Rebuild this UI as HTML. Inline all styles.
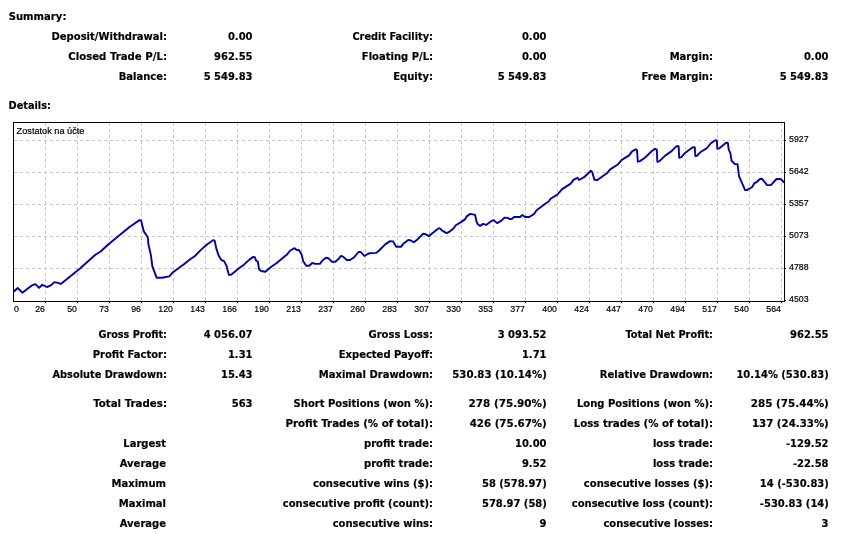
<!DOCTYPE html>
<html><head><meta charset="utf-8"><title>Strategy Tester Report</title>
<style>
html,body{margin:0;padding:0;background:#fff;}
body{width:843px;height:534px;overflow:hidden;}
svg{display:block}
.b{font:bold 11px "DejaVu Sans","Liberation Sans",sans-serif;fill:#000;stroke:#000;stroke-width:0.18px}
.s{font:9.5px "Liberation Sans","DejaVu Sans",sans-serif;fill:#000;stroke:#000;stroke-width:0.2px}
.g line{stroke:#c6c6c6;stroke-width:1;stroke-dasharray:3 3;shape-rendering:crispEdges}
</style></head><body>
<svg width="843" height="534" viewBox="0 0 843 534">
<rect width="843" height="534" fill="#fff"/>
<g class="g">
<line x1="45.5" y1="123" x2="45.5" y2="301"/>
<line x1="77.5" y1="123" x2="77.5" y2="301"/>
<line x1="109.5" y1="123" x2="109.5" y2="301"/>
<line x1="141.5" y1="123" x2="141.5" y2="301"/>
<line x1="173.5" y1="123" x2="173.5" y2="301"/>
<line x1="205.5" y1="123" x2="205.5" y2="301"/>
<line x1="237.5" y1="123" x2="237.5" y2="301"/>
<line x1="269.5" y1="123" x2="269.5" y2="301"/>
<line x1="301.5" y1="123" x2="301.5" y2="301"/>
<line x1="333.5" y1="123" x2="333.5" y2="301"/>
<line x1="365.5" y1="123" x2="365.5" y2="301"/>
<line x1="397.5" y1="123" x2="397.5" y2="301"/>
<line x1="429.5" y1="123" x2="429.5" y2="301"/>
<line x1="461.5" y1="123" x2="461.5" y2="301"/>
<line x1="493.5" y1="123" x2="493.5" y2="301"/>
<line x1="525.5" y1="123" x2="525.5" y2="301"/>
<line x1="557.5" y1="123" x2="557.5" y2="301"/>
<line x1="589.5" y1="123" x2="589.5" y2="301"/>
<line x1="621.5" y1="123" x2="621.5" y2="301"/>
<line x1="653.5" y1="123" x2="653.5" y2="301"/>
<line x1="685.5" y1="123" x2="685.5" y2="301"/>
<line x1="717.5" y1="123" x2="717.5" y2="301"/>
<line x1="749.5" y1="123" x2="749.5" y2="301"/>
<line x1="781.5" y1="123" x2="781.5" y2="301"/>
<line x1="14" y1="140.5" x2="784" y2="140.5"/>
<line x1="14" y1="172.5" x2="784" y2="172.5"/>
<line x1="14" y1="204.5" x2="784" y2="204.5"/>
<line x1="14" y1="236.5" x2="784" y2="236.5"/>
<line x1="14" y1="268.5" x2="784" y2="268.5"/>
</g>
<rect x="13.5" y="122.5" width="771" height="179" fill="none" stroke="#000" stroke-width="1" shape-rendering="crispEdges"/>
<g fill="#000" shape-rendering="crispEdges"><rect x="45" y="302" width="1" height="1"/><rect x="77" y="302" width="1" height="1"/><rect x="109" y="302" width="1" height="1"/><rect x="141" y="302" width="1" height="1"/><rect x="173" y="302" width="1" height="1"/><rect x="205" y="302" width="1" height="1"/><rect x="237" y="302" width="1" height="1"/><rect x="269" y="302" width="1" height="1"/><rect x="301" y="302" width="1" height="1"/><rect x="333" y="302" width="1" height="1"/><rect x="365" y="302" width="1" height="1"/><rect x="397" y="302" width="1" height="1"/><rect x="429" y="302" width="1" height="1"/><rect x="461" y="302" width="1" height="1"/><rect x="493" y="302" width="1" height="1"/><rect x="525" y="302" width="1" height="1"/><rect x="557" y="302" width="1" height="1"/><rect x="589" y="302" width="1" height="1"/><rect x="621" y="302" width="1" height="1"/><rect x="653" y="302" width="1" height="1"/><rect x="685" y="302" width="1" height="1"/><rect x="717" y="302" width="1" height="1"/><rect x="749" y="302" width="1" height="1"/><rect x="781" y="302" width="1" height="1"/><rect x="785" y="140" width="1" height="1"/><rect x="785" y="172" width="1" height="1"/><rect x="785" y="204" width="1" height="1"/><rect x="785" y="236" width="1" height="1"/><rect x="785" y="268" width="1" height="1"/><rect x="785" y="300" width="1" height="1"/></g>
<polyline fill="none" stroke="#0000b0" stroke-width="1.9" stroke-linejoin="round" points="13.5,291.6 14.2,291.2 17.7,288.0 22.5,292.8 27.8,288.4 31.9,285.4 35.5,284.1 39.1,287.8 42.3,284.8 47.0,287.0 50.3,285.7 54.5,282.1 58.0,282.9 60.8,283.9 80.0,268.5 84.7,264.3 95.4,254.8 100.6,251.5 108.5,244.2 118.2,236.3 129.2,227.2 139.5,220.1 141.1,220.5 143.8,231.4 147.8,237.3 148.4,244.2 150.9,255.1 152.3,266.1 156.6,277.7 162.0,277.7 169.3,276.4 173.0,272.2 183.9,264.3 190.6,259.1 194.9,256.0 200.9,249.9 207.0,244.5 213.1,240.2 214.7,240.6 216.2,248.1 218.6,255.4 221.4,260.0 224.1,261.1 226.5,265.8 228.9,274.9 230.8,274.9 238.7,268.6 243.5,265.1 249.0,259.9 253.3,256.9 254.8,257.2 256.1,260.6 257.8,261.5 259.1,269.4 261.2,271.0 265.4,271.8 270.9,267.0 276.4,263.3 280.6,259.7 287.3,254.2 290.3,250.5 294.6,248.1 296.4,249.7 299.1,250.3 301.7,254.8 303.1,260.9 306.2,265.8 309.2,265.8 312.2,263.0 315.3,263.9 319.9,263.9 322.6,260.3 326.0,257.8 328.3,258.1 331.7,261.7 335.4,261.7 339.0,258.5 340.8,256.0 342.7,256.4 346.9,260.0 350.0,260.0 354.2,257.2 358.5,252.0 360.9,252.0 364.3,256.0 369.4,253.2 376.1,252.9 379.1,250.5 385.2,244.4 390.1,241.1 393.1,241.4 396.2,246.8 401.0,246.8 403.5,243.6 408.3,239.9 410.8,240.5 413.8,242.3 416.8,240.1 422.9,233.8 425.4,234.1 429.0,236.1 433.9,232.0 438.7,228.2 440.3,228.6 441.8,230.4 446.6,233.1 449.1,231.9 453.9,228.0 455.8,225.2 460.6,222.4 464.9,219.4 466.7,216.4 470.3,213.9 475.2,214.9 476.4,221.2 477.6,223.9 480.1,225.9 483.1,223.9 486.2,224.9 490.4,221.8 493.5,220.0 497.1,223.1 501.4,220.6 504.4,217.8 508.1,217.9 509.3,219.0 511.7,219.0 514.1,217.0 520.2,217.0 522.3,214.9 525.1,217.0 529.3,217.0 534.2,213.9 536.6,210.3 543.9,204.8 548.8,201.2 550.6,198.8 557.3,194.6 562.2,189.1 570.7,183.6 573.7,179.7 577.4,177.8 579.0,180.0 584.1,177.2 590.8,170.8 592.2,172.1 594.4,179.7 597.4,180.0 607.2,172.9 610.2,169.4 618.1,164.2 621.8,159.9 629.1,155.4 632.1,151.4 635.8,149.2 637.0,150.2 637.8,161.7 640.0,161.1 644.9,157.8 652.2,150.7 655.2,148.9 656.8,149.7 657.3,161.8 659.5,161.1 665.5,155.4 671.6,151.1 676.5,146.2 678.6,146.2 679.2,157.8 681.4,157.2 684.4,153.5 692.3,147.5 694.7,147.1 695.4,156.0 697.2,155.7 700.2,152.3 706.9,148.1 710.6,143.5 715.4,140.2 716.9,140.4 717.3,148.7 719.1,148.4 726.4,142.6 727.8,142.8 728.8,149.9 730.3,152.9 731.6,160.8 734.8,164.0 737.6,164.3 739.0,176.2 745.1,190.1 747.0,190.1 752.2,187.0 754.5,183.0 756.4,182.3 759.6,179.2 762.0,178.8 767.1,185.1 770.9,185.1 776.5,179.0 780.2,179.0 782.3,180.4 784.0,182.8"/>
<text class="s" transform="translate(16.6,134) scale(0.968,1)">Zostatok na účte</text>
<text class="s" transform="translate(14,312) scale(0.925,1)">0</text>
<text class="s" text-anchor="end" transform="translate(45,312) scale(0.925,1)">26</text>
<text class="s" text-anchor="end" transform="translate(77,312) scale(0.925,1)">50</text>
<text class="s" text-anchor="end" transform="translate(109,312) scale(0.925,1)">73</text>
<text class="s" text-anchor="end" transform="translate(141,312) scale(0.925,1)">96</text>
<text class="s" text-anchor="end" transform="translate(173,312) scale(0.925,1)">120</text>
<text class="s" text-anchor="end" transform="translate(205,312) scale(0.925,1)">143</text>
<text class="s" text-anchor="end" transform="translate(237,312) scale(0.925,1)">166</text>
<text class="s" text-anchor="end" transform="translate(269,312) scale(0.925,1)">190</text>
<text class="s" text-anchor="end" transform="translate(301,312) scale(0.925,1)">213</text>
<text class="s" text-anchor="end" transform="translate(333,312) scale(0.925,1)">237</text>
<text class="s" text-anchor="end" transform="translate(365,312) scale(0.925,1)">260</text>
<text class="s" text-anchor="end" transform="translate(397,312) scale(0.925,1)">283</text>
<text class="s" text-anchor="end" transform="translate(429,312) scale(0.925,1)">307</text>
<text class="s" text-anchor="end" transform="translate(461,312) scale(0.925,1)">330</text>
<text class="s" text-anchor="end" transform="translate(493,312) scale(0.925,1)">353</text>
<text class="s" text-anchor="end" transform="translate(525,312) scale(0.925,1)">377</text>
<text class="s" text-anchor="end" transform="translate(557,312) scale(0.925,1)">400</text>
<text class="s" text-anchor="end" transform="translate(589,312) scale(0.925,1)">424</text>
<text class="s" text-anchor="end" transform="translate(621,312) scale(0.925,1)">447</text>
<text class="s" text-anchor="end" transform="translate(653,312) scale(0.925,1)">470</text>
<text class="s" text-anchor="end" transform="translate(685,312) scale(0.925,1)">494</text>
<text class="s" text-anchor="end" transform="translate(717,312) scale(0.925,1)">517</text>
<text class="s" text-anchor="end" transform="translate(749,312) scale(0.925,1)">540</text>
<text class="s" text-anchor="end" transform="translate(781,312) scale(0.925,1)">564</text>
<text class="s" transform="translate(789,142) scale(0.925,1)">5927</text>
<text class="s" transform="translate(789,174) scale(0.925,1)">5642</text>
<text class="s" transform="translate(789,206) scale(0.925,1)">5357</text>
<text class="s" transform="translate(789,238) scale(0.925,1)">5073</text>
<text class="s" transform="translate(789,270) scale(0.925,1)">4788</text>
<text class="s" transform="translate(789,302) scale(0.925,1)">4503</text>
<text class="b" text-anchor="start" transform="translate(8.7,20) scale(0.916,1)">Summary:</text>
<text class="b" text-anchor="end" transform="translate(167,40) scale(0.91,1)">Deposit/Withdrawal:</text>
<text class="b" text-anchor="end" transform="translate(252.5,40) scale(0.905,1)">0.00</text>
<text class="b" text-anchor="end" transform="translate(433,40) scale(0.8898,1)">Credit Facility:</text>
<text class="b" text-anchor="end" transform="translate(546.5,40) scale(0.905,1)">0.00</text>
<text class="b" text-anchor="end" transform="translate(167,60) scale(0.9252,1)">Closed Trade P/L:</text>
<text class="b" text-anchor="end" transform="translate(252.5,60) scale(0.905,1)">962.55</text>
<text class="b" text-anchor="end" transform="translate(433,60) scale(0.91,1)">Floating P/L:</text>
<text class="b" text-anchor="end" transform="translate(546.5,60) scale(0.905,1)">0.00</text>
<text class="b" text-anchor="end" transform="translate(713,60) scale(0.91,1)">Margin:</text>
<text class="b" text-anchor="end" transform="translate(828.5,60) scale(0.905,1)">0.00</text>
<text class="b" text-anchor="end" transform="translate(167,80) scale(0.91,1)">Balance:</text>
<text class="b" text-anchor="end" transform="translate(252.5,80) scale(0.905,1)">5 549.83</text>
<text class="b" text-anchor="end" transform="translate(433,80) scale(0.91,1)">Equity:</text>
<text class="b" text-anchor="end" transform="translate(546.5,80) scale(0.905,1)">5 549.83</text>
<text class="b" text-anchor="end" transform="translate(713,80) scale(0.91,1)">Free Margin:</text>
<text class="b" text-anchor="end" transform="translate(828.5,80) scale(0.905,1)">5 549.83</text>
<text class="b" text-anchor="start" transform="translate(8.6,109) scale(0.886,1)">Details:</text>
<text class="b" text-anchor="end" transform="translate(167,338) scale(0.8827,1)">Gross Profit:</text>
<text class="b" text-anchor="end" transform="translate(252.5,338) scale(0.905,1)">4 056.07</text>
<text class="b" text-anchor="end" transform="translate(433,338) scale(0.91,1)">Gross Loss:</text>
<text class="b" text-anchor="end" transform="translate(546.5,338) scale(0.905,1)">3 093.52</text>
<text class="b" text-anchor="end" transform="translate(713,338) scale(0.8896,1)">Total Net Profit:</text>
<text class="b" text-anchor="end" transform="translate(828.5,338) scale(0.905,1)">962.55</text>
<text class="b" text-anchor="end" transform="translate(167,358) scale(0.91,1)">Profit Factor:</text>
<text class="b" text-anchor="end" transform="translate(252.5,358) scale(0.905,1)">1.31</text>
<text class="b" text-anchor="end" transform="translate(433,358) scale(0.91,1)">Expected Payoff:</text>
<text class="b" text-anchor="end" transform="translate(546.5,358) scale(0.905,1)">1.71</text>
<text class="b" text-anchor="end" transform="translate(167,378) scale(0.8912,1)">Absolute Drawdown:</text>
<text class="b" text-anchor="end" transform="translate(252.5,378) scale(0.905,1)">15.43</text>
<text class="b" text-anchor="end" transform="translate(433,378) scale(0.91,1)">Maximal Drawdown:</text>
<text class="b" text-anchor="end" transform="translate(546.8,378) scale(0.9266,1)">530.83 (10.14%)</text>
<text class="b" text-anchor="end" transform="translate(713,378) scale(0.91,1)">Relative Drawdown:</text>
<text class="b" text-anchor="end" transform="translate(828.8,378) scale(0.905,1)">10.14% (530.83)</text>
<text class="b" text-anchor="end" transform="translate(167,407) scale(0.9318,1)">Total Trades:</text>
<text class="b" text-anchor="end" transform="translate(252.5,407) scale(0.905,1)">563</text>
<text class="b" text-anchor="end" transform="translate(433,407) scale(0.91,1)">Short Positions (won %):</text>
<text class="b" text-anchor="end" transform="translate(546.8,407) scale(0.9478,1)">278 (75.90%)</text>
<text class="b" text-anchor="end" transform="translate(713,407) scale(0.91,1)">Long Positions (won %):</text>
<text class="b" text-anchor="end" transform="translate(828.8,407) scale(0.9441,1)">285 (75.44%)</text>
<text class="b" text-anchor="end" transform="translate(433,427) scale(0.9356,1)">Profit Trades (% of total):</text>
<text class="b" text-anchor="end" transform="translate(546.8,427) scale(0.9352,1)">426 (75.67%)</text>
<text class="b" text-anchor="end" transform="translate(713,427) scale(0.9295,1)">Loss trades (% of total):</text>
<text class="b" text-anchor="end" transform="translate(828.8,427) scale(0.9307,1)">137 (24.33%)</text>
<text class="b" text-anchor="end" transform="translate(166,447) scale(0.91,1)">Largest</text>
<text class="b" text-anchor="end" transform="translate(433,447) scale(0.91,1)">profit trade:</text>
<text class="b" text-anchor="end" transform="translate(546.5,447) scale(0.905,1)">10.00</text>
<text class="b" text-anchor="end" transform="translate(713,447) scale(0.91,1)">loss trade:</text>
<text class="b" text-anchor="end" transform="translate(828.5,447) scale(0.905,1)">-129.52</text>
<text class="b" text-anchor="end" transform="translate(166,467) scale(0.91,1)">Average</text>
<text class="b" text-anchor="end" transform="translate(433,467) scale(0.91,1)">profit trade:</text>
<text class="b" text-anchor="end" transform="translate(546.5,467) scale(0.905,1)">9.52</text>
<text class="b" text-anchor="end" transform="translate(713,467) scale(0.91,1)">loss trade:</text>
<text class="b" text-anchor="end" transform="translate(828.5,467) scale(0.905,1)">-22.58</text>
<text class="b" text-anchor="end" transform="translate(166,487) scale(0.91,1)">Maximum</text>
<text class="b" text-anchor="end" transform="translate(433,487) scale(0.91,1)">consecutive wins ($):</text>
<text class="b" text-anchor="end" transform="translate(546.8,487) scale(0.905,1)">58 (578.97)</text>
<text class="b" text-anchor="end" transform="translate(713,487) scale(0.91,1)">consecutive losses ($):</text>
<text class="b" text-anchor="end" transform="translate(828.8,487) scale(0.905,1)">14 (-530.83)</text>
<text class="b" text-anchor="end" transform="translate(166,507) scale(0.91,1)">Maximal</text>
<text class="b" text-anchor="end" transform="translate(433,507) scale(0.91,1)">consecutive profit (count):</text>
<text class="b" text-anchor="end" transform="translate(546.8,507) scale(0.905,1)">578.97 (58)</text>
<text class="b" text-anchor="end" transform="translate(713,507) scale(0.91,1)">consecutive loss (count):</text>
<text class="b" text-anchor="end" transform="translate(828.8,507) scale(0.905,1)">-530.83 (14)</text>
<text class="b" text-anchor="end" transform="translate(166,527) scale(0.91,1)">Average</text>
<text class="b" text-anchor="end" transform="translate(433,527) scale(0.91,1)">consecutive wins:</text>
<text class="b" text-anchor="end" transform="translate(546.5,527) scale(0.905,1)">9</text>
<text class="b" text-anchor="end" transform="translate(713,527) scale(0.91,1)">consecutive losses:</text>
<text class="b" text-anchor="end" transform="translate(828.5,527) scale(0.905,1)">3</text>
</svg>
</body></html>
